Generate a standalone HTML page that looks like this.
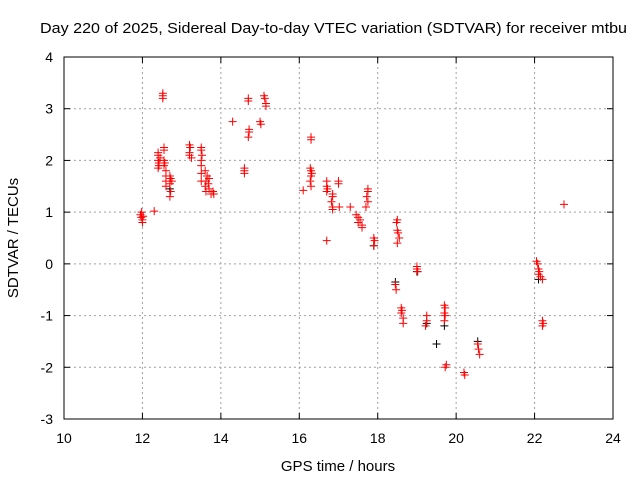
<!DOCTYPE html>
<html><head><meta charset="utf-8">
<style>
body{margin:0;background:#fff;}
svg{display:block;font-family:"Liberation Sans",sans-serif;}
</style></head>
<body>
<svg id="chart" width="640" height="480" viewBox="0 0 640 480">
<text x="40" y="33" font-size="15" textLength="587" lengthAdjust="spacingAndGlyphs">Day 220 of 2025, Sidereal Day-to-day VTEC variation (SDTVAR) for receiver mtbu</text>
<text x="338" y="471" font-size="15" text-anchor="middle">GPS time / hours</text>
<text x="0" y="0" font-size="15" text-anchor="middle" transform="translate(18,238) rotate(-90)">SDTVAR / TECUs</text>
<g id="grid"></g><g id="ticks"></g><g id="marks"></g>
<rect x="64" y="57" width="549" height="362" fill="none" stroke="#000" stroke-width="1"/>
</svg>
<script>
const xTicks=[10,12,14,16,18,20,22,24];
const yTicks=[-3,-2,-1,0,1,2,3,4];
const redHours=[11.95,11.97,12.0,12.02,11.98,12.0,12.3,
12.4,12.4,12.4,12.42,12.42,12.4,12.45,
12.52,12.52,12.52,12.55,12.55,12.55,12.57,12.55,12.6,12.6,12.6,12.6,
12.7,12.72,12.75,12.7,12.72,12.7,
13.2,13.22,13.2,13.2,13.25,
13.5,13.5,13.52,13.5,13.5,13.5,13.5,
13.6,13.65,13.7,13.62,13.68,13.6,13.7,13.62,13.75,13.8,13.82,
14.3,14.6,14.6,14.6,14.7,14.7,14.72,14.72,14.7,15.0,15.02,15.1,15.12,15.15,15.15,
16.1,16.3,16.3,16.28,16.3,16.32,16.3,16.28,16.3,
16.7,16.7,16.72,16.7,16.7,16.85,16.85,16.82,16.85,16.85,17.0,17.0,17.02,17.3,
17.45,17.5,17.55,17.5,17.6,17.6,17.75,17.75,17.72,17.75,17.7,17.9,17.92,17.9,
18.5,18.48,18.5,18.52,18.55,18.5,18.45,18.47,
18.6,18.62,18.6,18.65,18.65,19.0,19.0,19.02,19.25,19.25,19.22,
19.7,19.72,19.7,19.72,19.7,19.75,19.72,20.2,20.22,20.55,20.57,20.6,
22.05,22.08,22.1,22.12,22.1,22.15,22.2,22.2,22.22,22.2,22.75];
const redValues=[0.95,0.9,0.85,0.92,1.0,0.8,1.02,
2.15,2.1,2.0,1.95,1.9,1.85,2.05,
3.3,3.25,3.2,2.25,2.2,2.0,1.95,1.9,1.8,1.7,1.6,1.5,
1.7,1.65,1.6,1.55,1.4,1.3,
2.3,2.25,2.15,2.1,2.05,
2.25,2.2,2.1,2.0,1.9,1.75,1.6,
1.8,1.7,1.65,1.6,1.55,1.5,1.45,1.4,1.35,1.4,1.35,
2.75,1.85,1.8,1.75,3.2,3.15,2.6,2.55,2.45,2.75,2.7,3.25,3.2,3.1,3.05,
1.42,2.45,2.4,1.85,1.8,1.75,1.7,1.6,1.5,
1.6,1.5,1.45,1.4,0.45,1.35,1.3,1.2,1.1,1.05,1.6,1.55,1.1,1.1,
0.95,0.9,0.85,0.8,0.75,0.7,1.45,1.4,1.3,1.2,1.1,0.5,0.45,0.35,
0.85,0.8,0.65,0.6,0.5,0.4,-0.4,-0.5,
-0.85,-0.9,-0.95,-1.05,-1.15,-0.05,-0.1,-0.15,-1.0,-1.1,-1.2,
-0.8,-0.85,-0.95,-1.0,-1.1,-1.95,-2.0,-2.1,-2.15,-1.55,-1.65,-1.75,
0.05,0.0,-0.1,-0.15,-0.2,-0.25,-0.3,-1.1,-1.15,-1.2,1.15];
const blackHours=[12.7,19.25,19.5,19.7,20.55,22.1,19.0,18.45,17.9];
const blackValues=[1.45,-1.15,-1.55,-1.2,-1.5,-0.3,-0.15,-0.35,0.35];
const NS='http://www.w3.org/2000/svg';
const X0=64,X1=613,Y0=419,Y1=57;
function xs(v){return X0+(v-10)/14*(X1-X0);}
function ys(v){return Y0-(v+3)/7*(Y0-Y1);}
const grid=document.getElementById('grid'),ticks=document.getElementById('ticks'),marks=document.getElementById('marks');
function mk(tag,attrs,parent){const e=document.createElementNS(NS,tag);for(const k in attrs)e.setAttribute(k,attrs[k]);parent.appendChild(e);return e;}
xTicks.forEach(t=>{const x=xs(t);
 if(t>10&&t<24){const g=mk('line',{x1:x,x2:x,y1:Y1,y2:Y0,stroke:'#a0a0a0','stroke-dasharray':'2,3'},grid);
 
 }
 mk('line',{x1:x,x2:x,y1:Y0,y2:Y0-6,stroke:'#000'},ticks);
 mk('line',{x1:x,x2:x,y1:Y1,y2:Y1+6,stroke:'#000'},ticks);
 const l=mk('text',{x:x,y:443,'font-size':14,'text-anchor':'middle'},ticks);l.textContent=t;
 
 });
yTicks.forEach(t=>{const y=ys(t);
 if(t>-3&&t<4){const g=mk('line',{x1:X0,x2:X1,y1:y,y2:y,stroke:'#a0a0a0','stroke-dasharray':'2,3'},grid);
 
 }
 mk('line',{x1:X0,x2:X0+6,y1:y,y2:y,stroke:'#000'},ticks);
 mk('line',{x1:X1,x2:X1-6,y1:y,y2:y,stroke:'#000'},ticks);
 const l=mk('text',{x:53,y:y+5,'font-size':14,'text-anchor':'end'},ticks);l.textContent=t;
 
 });
function cross(h,v,col,name){const x=xs(h),y=ys(v);
 const p=mk('path',{d:`M${x-4},${y}h8M${x},${y-4}v8`,stroke:col,'stroke-width':1},marks);
 
 }
blackHours.forEach((h,i)=>cross(h,blackValues[i],'#000','reference-point'));
redHours.forEach((h,i)=>cross(h,redValues[i],'#ff0000','sdtvar-point'));
</script>
</body></html>
